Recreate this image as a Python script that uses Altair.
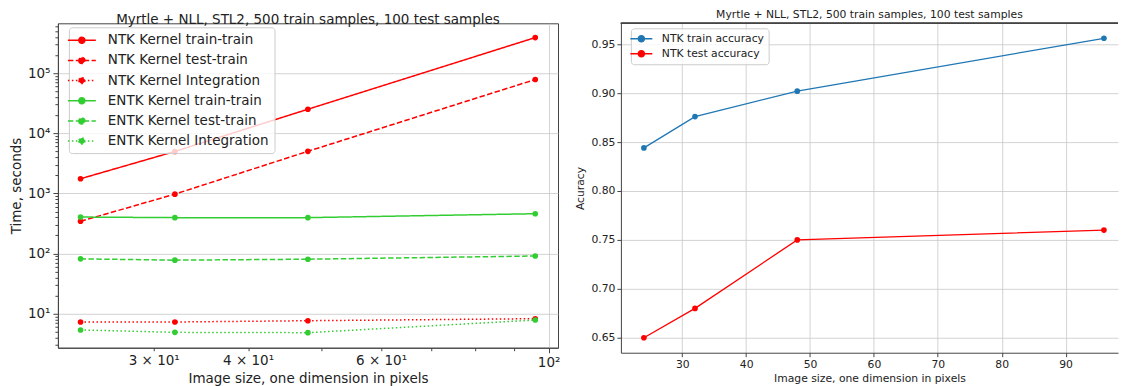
import altair as alt
import pandas as pd

# ---------------- data ----------------
sizes = [24, 32, 48, 96]

time_series = [
    "NTK Kernel train-train",
    "NTK Kernel test-train",
    "NTK Kernel Integration",
    "ENTK Kernel train-train",
    "ENTK Kernel test-train",
    "ENTK Kernel Integration",
]
ntk_train_train = [1750, 4970, 25000, 388000]
ntk_test_train = [344, 970, 5000, 78000]
ntk_integration = [7.28, 7.28, 7.65, 8.26]
entk_train_train = [404, 395, 395, 459]
entk_test_train = [81.6, 77.6, 80.5, 91.0]
entk_integration = [5.37, 4.9, 4.84, 7.85]

acc_series = ["NTK train accuracy", "NTK test accuracy"]
ntk_train_acc = [0.844, 0.876, 0.902, 0.956]
ntk_test_acc = [0.650, 0.680, 0.750, 0.760]

title_text = "Myrtle + NLL, STL2, 500 train samples, 100 test samples"
x_title = "Image size, one dimension in pixels"

# ---------------- tables ----------------
rows = []
for name, vals in zip(time_series, [ntk_train_train, ntk_test_train, ntk_integration,
                                    entk_train_train, entk_test_train, entk_integration]):
    for s, v in zip(sizes, vals):
        rows.append({"size": s, "value": v, "series": name})
df_time = pd.DataFrame(rows)

rows = []
for name, vals in zip(acc_series, [ntk_train_acc, ntk_test_acc]):
    for s, v in zip(sizes, vals):
        rows.append({"size": s, "value": v, "acc": name})
df_acc = pd.DataFrame(rows)

# ---------------- styles ----------------
FONT = "DejaVu Sans"
TXT = "#222222"
FRAME = "#444444"
RED = "#ff0000"
GREEN = "#32cd32"
BLUE = "#1f77b4"

time_colors = [RED, RED, RED, GREEN, GREEN, GREEN]
time_dashes = [[1, 0], [5.5, 2.4], [1.5, 2.5], [1, 0], [5.5, 2.4], [1.5, 2.5]]

# legend symbol: short line with a dot in the middle (wide path, small nominal size)
L_SYM = "M-2,0L2,0M-0.43,0a0.43,0.43 0 1,0 0.86,0a0.43,0.43 0 1,0 -0.86,0"
R_SYM = "M-2,0L2,0M-0.55,0a0.55,0.55 0 1,0 1.1,0a0.55,0.55 0 1,0 -1.1,0"

# ---------------- left chart ----------------
x_ticks_left = [30, 40, 50, 60, 70, 80, 90, 100]
y_ticks_left = [m * 10 ** e for e in range(0, 6) for m in range(1, 10)
                if 2.72 <= m * 10 ** e <= 670000]

x_label_expr = ("datum.value==30?'3 × 10¹':datum.value==40?'4 × 10¹':"
                "datum.value==60?'6 × 10¹':datum.value==100?'10²':''")
y_label_expr = ("datum.value==10?'10¹':datum.value==100?'10²':datum.value==1000?'10³':"
                "datum.value==10000?'10⁴':datum.value==100000?'10⁵':''")
y_major_test = "datum.value==10||datum.value==100||datum.value==1000||datum.value==10000||datum.value==100000"

left_x = alt.X(
    "size:Q",
    scale=alt.Scale(type="log", domain=[22.4, 102.9], nice=False),
    axis=alt.Axis(
        values=x_ticks_left, labelExpr=x_label_expr, title=x_title,
        gridOpacity={"condition": {"test": "datum.value==100", "value": 1}, "value": 0},
        tickSize={"condition": {"test": "datum.value==100", "value": 5}, "value": 3},
        labelFontSize=13.5, titleFontSize=13.5, labelPadding=3, titlePadding=2,
        labelFlush=False, labelOverlap=False,
    ),
)
left_y = alt.Y(
    "value:Q",
    scale=alt.Scale(type="log", domain=[2.72, 670000], nice=False),
    axis=alt.Axis(
        values=y_ticks_left, labelExpr=y_label_expr, title="Time, seconds",
        gridOpacity={"condition": {"test": y_major_test, "value": 1}, "value": 0},
        tickSize={"condition": {"test": y_major_test, "value": 5}, "value": 3},
        labelFontSize=13.5, titleFontSize=13.5, labelPadding=3, titlePadding=4,
        labelFlush=False, labelOverlap=False,
    ),
)
left_legend = alt.Legend(
    orient="none", legendX=11, legendY=4, title=None,
    symbolType=L_SYM, symbolSize=196, symbolStrokeWidth=1.5, labelLimit=400,
    labelFontSize=13.5, labelFont=FONT, labelColor=TXT, labelOffset=18,
    fillColor="rgba(255,255,255,0.8)", strokeColor="#cccccc", cornerRadius=3,
    padding=5, rowPadding=5.2,
)
left_scale_color = alt.Scale(domain=time_series, range=time_colors)

left_lines = alt.Chart(df_time).mark_line(strokeWidth=1.5).encode(
    x=left_x, y=left_y,
    stroke=alt.Stroke("series:N", scale=left_scale_color, legend=left_legend, sort=time_series),
    strokeDash=alt.StrokeDash("series:N", scale=alt.Scale(domain=time_series, range=time_dashes),
                              legend=left_legend, sort=time_series),
    detail="series:N",
)
left_points = alt.Chart(df_time).mark_point(filled=True, size=32, opacity=1).encode(
    x=left_x, y=left_y,
    fill=alt.Fill("series:N", scale=left_scale_color, legend=left_legend, sort=time_series),
)
left = alt.layer(left_lines, left_points).properties(
    width=501, height=325,
    title=alt.TitleParams(title_text, fontSize=13.5, font=FONT, fontWeight="normal",
                          color=TXT, anchor="middle", offset=-7),
)

# ---------------- right chart ----------------
right_x = alt.X(
    "size:Q",
    scale=alt.Scale(domain=[20.4, 98.2], nice=False, zero=False),
    axis=alt.Axis(values=[30, 40, 50, 60, 70, 80, 90], title=x_title, tickSize=4,
                  labelFontSize=10.8, titleFontSize=10.8, labelPadding=2, titlePadding=3,
                  domain=True, labelFlush=False),
)
right_y = alt.Y(
    "value:Q",
    scale=alt.Scale(domain=[0.6347, 0.9713], nice=False, zero=False),
    axis=alt.Axis(values=[0.65, 0.70, 0.75, 0.80, 0.85, 0.90, 0.95], format=".2f",
                  title="Acuracy", tickSize=4, labelFontSize=10.8, titleFontSize=10.8,
                  labelPadding=2, titlePadding=5, domain=True, labelFlush=False),
)
right_legend = alt.Legend(
    orient="none", legendX=10, legendY=5, title=None,
    symbolType=R_SYM, symbolSize=121, symbolStrokeWidth=1.5, labelLimit=400,
    labelFontSize=10.8, labelFont=FONT, labelColor=TXT, labelOffset=14,
    fillColor="rgba(255,255,255,0.8)", strokeColor="#cccccc", cornerRadius=3,
    padding=4, rowPadding=2,
)
right_scale_color = alt.Scale(domain=acc_series, range=[BLUE, RED])

right_lines = alt.Chart(df_acc).mark_line(strokeWidth=1.3).encode(
    x=right_x, y=right_y,
    stroke=alt.Stroke("acc:N", scale=right_scale_color, legend=right_legend, sort=acc_series),
    detail="acc:N",
)
right_points = alt.Chart(df_acc).mark_point(filled=True, size=32, opacity=1).encode(
    x=right_x, y=right_y,
    fill=alt.Fill("acc:N", scale=right_scale_color, legend=right_legend, sort=acc_series),
)
right_top = alt.Chart(df_acc).mark_rule(color=FRAME, strokeWidth=1).encode(
    x=alt.value(0), x2=alt.value(498), y=alt.value(0)
)
right = alt.layer(right_lines, right_points, right_top).properties(
    width=498, height=330,
    view=alt.ViewBackground(stroke="transparent"),
    title=alt.TitleParams(title_text, fontSize=10.8, font=FONT, fontWeight="normal",
                          color=TXT, anchor="middle", offset=3),
)

chart = alt.hconcat(left, right, spacing=13, padding=0).resolve_scale(
    stroke="independent", fill="independent", strokeDash="independent"
).resolve_legend(
    stroke="independent", fill="independent", strokeDash="independent"
).configure_view(
    stroke=FRAME, strokeWidth=1
).configure_axis(
    labelFont=FONT, titleFont=FONT, labelColor=TXT, titleColor=TXT,
    titleFontWeight="normal", tickColor=FRAME, domainColor=FRAME,
    gridColor="#c8c8c8", gridWidth=0.8,
)

chart.save("out.html", embed_options={"renderer": "svg", "actions": False})
